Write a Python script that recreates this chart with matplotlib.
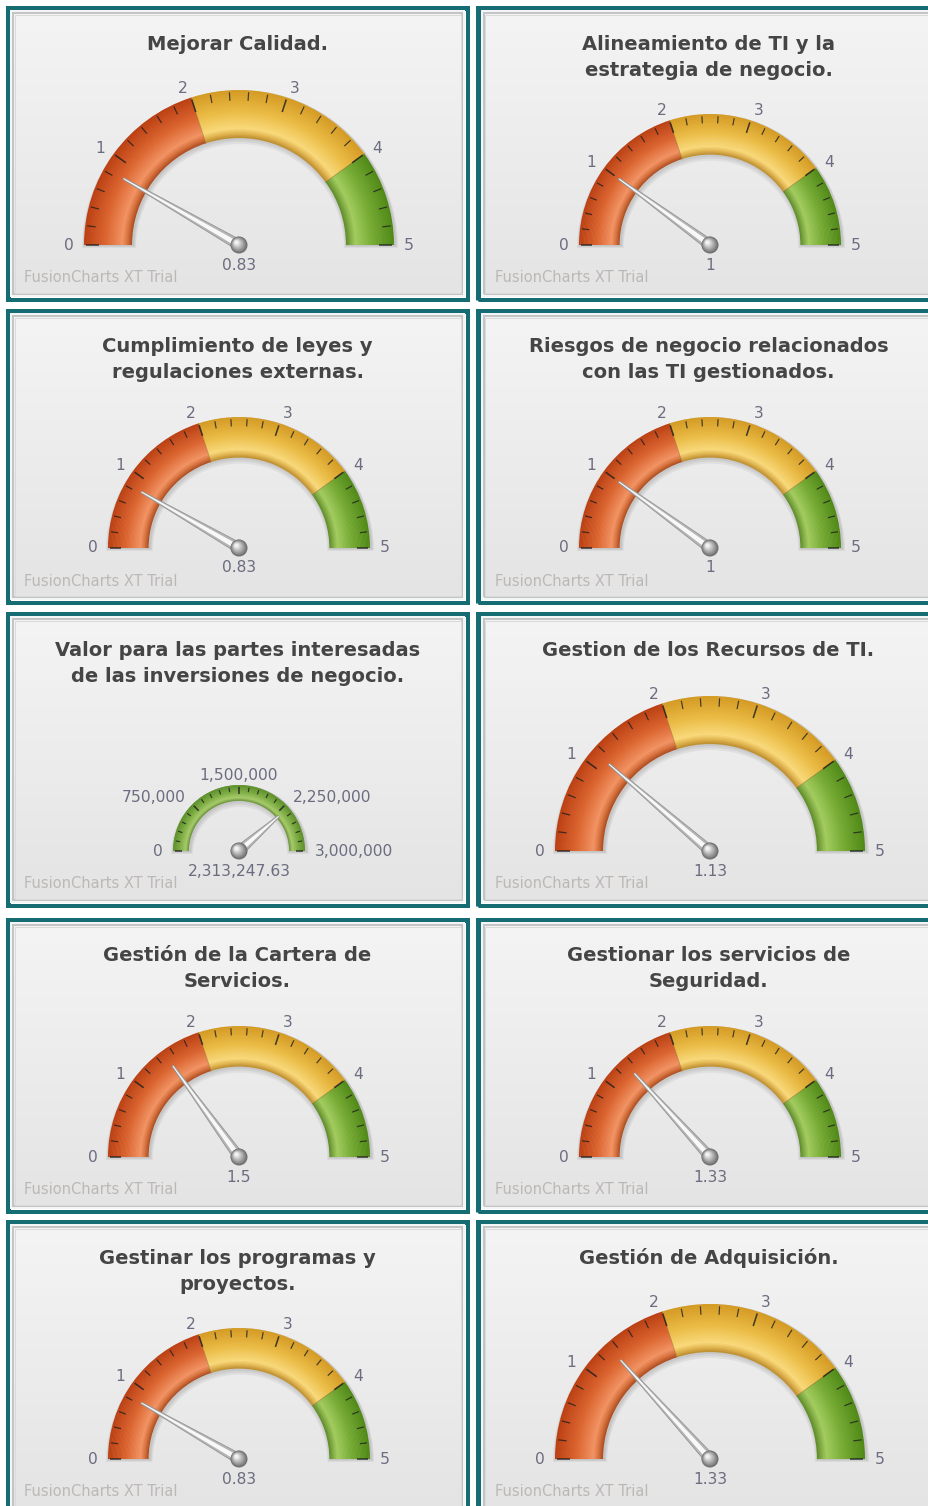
import numpy as np
import matplotlib.pyplot as plt
from matplotlib.patches import Wedge, Polygon, Circle, Rectangle
from matplotlib.colors import to_rgb, LinearSegmentedColormap

# gauge data, one entry per panel (left to right, top to bottom)
titles = [
    "Mejorar Calidad.",
    "Alineamiento de TI y la\nestrategia de negocio.",
    "Cumplimiento de leyes y\nregulaciones externas.",
    "Riesgos de negocio relacionados\ncon las TI gestionados.",
    "Valor para las partes interesadas\nde las inversiones de negocio.",
    "Gestion de los Recursos de TI.",
    "Gestión de la Cartera de\nServicios.",
    "Gestionar los servicios de\nSeguridad.",
    "Gestinar los programas y\nproyectos.",
    "Gestión de Adquisición.",
]
values = [0.83, 1, 0.83, 1, 2313247.63, 1.13, 1.5, 1.33, 0.83, 1.33]
scale_max = [5, 5, 5, 5, 3000000, 5, 5, 5, 5, 5]
major_step = [1, 1, 1, 1, 750000, 1, 1, 1, 1, 1]
band_limits = [[0, 2, 4, 5]] * 4 + [[0, 3000000]] + [[0, 2, 4, 5]] * 5
band_names = [["red", "yellow", "green"]] * 4 + [["green"]] + [["red", "yellow", "green"]] * 5

# layout in pixels
FIG_W, FIG_H = 929, 1506
col_x = [5, 476]
row_y = [5, 308, 611, 917, 1219]
PANEL_W, PANEL_H = 465, 297
gauge_r = [155, 131, 131, 131, 66, 155, 131, 131, 131, 155]
PT = 0.72  # points per pixel at dpi 100

TEAL = "#166c73"
LABEL_COLOR = "#6c6c80"
TITLE_COLOR = "#454545"

# radial colour profile of each band, outer edge (0) to inner edge (1)
band_shades = {
    "red": [(0.0, "#bb3f12"), (0.45, "#dc6530"), (0.8, "#f29363"),
            (0.9, "#d9733f"), (1.0, "#a84a1e")],
    "yellow": [(0.0, "#d49a22"), (0.45, "#ebbc45"), (0.8, "#f9d97a"),
               (0.9, "#e2b550"), (1.0, "#b98a2c")],
    "green": [(0.0, "#4f8816"), (0.45, "#76ab34"), (0.8, "#a2cc5e"),
              (0.9, "#82ad44"), (1.0, "#5c8a28")],
}

bg_cmap = LinearSegmentedColormap.from_list("bg", ["#f4f4f4", "#e4e4e4"])


def shade(name, t):
    stops = band_shades[name]
    pos = [s[0] for s in stops]
    rgb = np.array([to_rgb(s[1]) for s in stops])
    return tuple(np.interp(t, pos, rgb[:, j]) for j in range(3))


def fmt(v):
    if v >= 1000:
        return f"{v:,.2f}"
    return f"{v:g}"


def draw_panel(ax, title, value, vmax, step, limits, names, R):
    w, h = PANEL_W, PANEL_H
    ax.imshow(np.linspace(0, 1, 200)[:, None], extent=[8, w - 8, 8, h - 8],
              cmap=bg_cmap, aspect="auto", origin="upper", zorder=0)
    ax.add_patch(Rectangle((2.5, 2.5), w - 5, h - 5, fill=False, ec=TEAL, lw=5 * PT, zorder=1))
    ax.add_patch(Rectangle((6, 6), w - 12, h - 12, fill=False, ec="#f2f6f6", lw=2 * PT, zorder=1))
    ax.add_patch(Rectangle((8, 8), w - 16, h - 16, fill=False, ec="#c4c4c4", lw=2 * PT, zorder=1))
    ax.add_patch(Rectangle((9.5, 9.5), w - 19, h - 19, fill=False, ec="#dadada", lw=1 * PT, zorder=1))

    cx, cy = 234, h - 240
    r_in = R * (0.76 if R < 80 else 0.69)

    def ang(v):
        return 180.0 * (1 - v / vmax)

    # soft shadow under the dial
    for k in range(3):
        ax.add_patch(Wedge((cx + 1, cy - 1 - k), R + 1 + k, 0, 180, width=R - r_in + 2 + 2 * k,
                           fc="black", alpha=0.05, ec="none", zorder=1.5))

    # bands, drawn as thin concentric rings for a radial gradient
    n = 32
    dr = (R - r_in) / n
    for lo, hi, name in zip(limits[:-1], limits[1:], names):
        t1, t2 = ang(hi), ang(lo)
        for k in range(n):
            t = (k + 0.5) / n
            width = dr * 1.4 if k < n - 1 else dr
            ax.add_patch(Wedge((cx, cy), R - k * dr, t1, t2, width=width,
                               fc=shade(name, t), ec="none", zorder=2))
    for b in limits[1:-1]:
        a = np.radians(ang(b))
        ax.plot([cx + r_in * np.cos(a), cx + R * np.cos(a)],
                [cy + r_in * np.sin(a), cy + R * np.sin(a)],
                color="#8a5a20", lw=0.8 * PT, alpha=0.45, zorder=3)

    # ticks
    minor = step / 5
    n_ticks = int(round(vmax / minor))
    for i in range(n_ticks + 1):
        v = i * minor
        a = np.radians(ang(v))
        major = i % 5 == 0
        ln = (0.085 if major else 0.055) * R
        if R < 80:
            ln = 7 if major else 4.5
        r0 = R - 2
        ax.plot([cx + r0 * np.cos(a), cx + (r0 - ln) * np.cos(a)],
                [cy + r0 * np.sin(a), cy + (r0 - ln) * np.sin(a)],
                color="#1e1e1e", lw=(1.6 if major else 1.2) * PT, alpha=0.8,
                solid_capstyle="butt", zorder=4)
        if major:
            rl = R + 10
            deg = ang(v)
            if abs(deg - 90) < 1:
                ha = "center"
            elif deg > 90:
                ha = "right"
            else:
                ha = "left"
            ax.text(cx + rl * np.cos(a), cy + rl * np.sin(a), f"{v:,.0f}",
                    ha=ha, va="center", fontsize=11.2, color=LABEL_COLOR, zorder=5)

    # needle
    a = np.radians(ang(value))
    u = np.array([np.cos(a), np.sin(a)])
    p = np.array([-np.sin(a), np.cos(a)])
    c = np.array([cx, cy])
    L = (0.80 if R < 80 else 0.86) * R
    outer = [c + p * 5.2, c + u * L + p * 1.0, c + u * L - p * 1.0, c - p * 5.2]
    inner = [c + p * 2.6, c + u * L + p * 0.4, c + u * L - p * 0.4, c - p * 2.6]
    ax.add_patch(Polygon(outer, closed=True, fc="#b4b4b4", ec="#8e8e8e", lw=0.7 * PT, zorder=6))
    ax.add_patch(Polygon(inner, closed=True, fc="#f8f8f8", ec="none", zorder=6))

    # pivot sphere
    steps = 16
    for k in range(steps):
        f = k / steps
        col = np.interp(f, [0, 1], [0.42, 0.98])
        off = 2.8 * f
        ax.add_patch(Circle((cx - off, cy + off), 8.5 * (1 - 0.85 * f),
                            fc=(col, col, col), ec="none", zorder=7))

    ax.text(cx, cy - 20, fmt(value), ha="center", va="center",
            fontsize=11.2, color=LABEL_COLOR, zorder=5)

    for j, line in enumerate(title.split("\n")):
        ax.text(w / 2, h - 39 - 26 * j, line, ha="center", va="center",
                fontsize=14, fontweight="bold", color=TITLE_COLOR, zorder=5)

    ax.text(19, h - 273, "FusionCharts XT Trial", ha="left", va="center",
            fontsize=10.5, color="#bcb8b6", zorder=5)

    ax.set_xlim(0, w)
    ax.set_ylim(0, h)
    ax.set_axis_off()


fig = plt.figure(figsize=(FIG_W / 100, FIG_H / 100), dpi=100)
fig.patch.set_facecolor("white")

for i in range(len(titles)):
    left = col_x[i % 2]
    top = row_y[i // 2]
    ax = fig.add_axes([left / FIG_W, 1 - (top + PANEL_H) / FIG_H,
                       PANEL_W / FIG_W, PANEL_H / FIG_H])
    draw_panel(ax, titles[i], values[i], scale_max[i], major_step[i],
               band_limits[i], band_names[i], gauge_r[i])

fig.savefig("out.png", dpi=100)
